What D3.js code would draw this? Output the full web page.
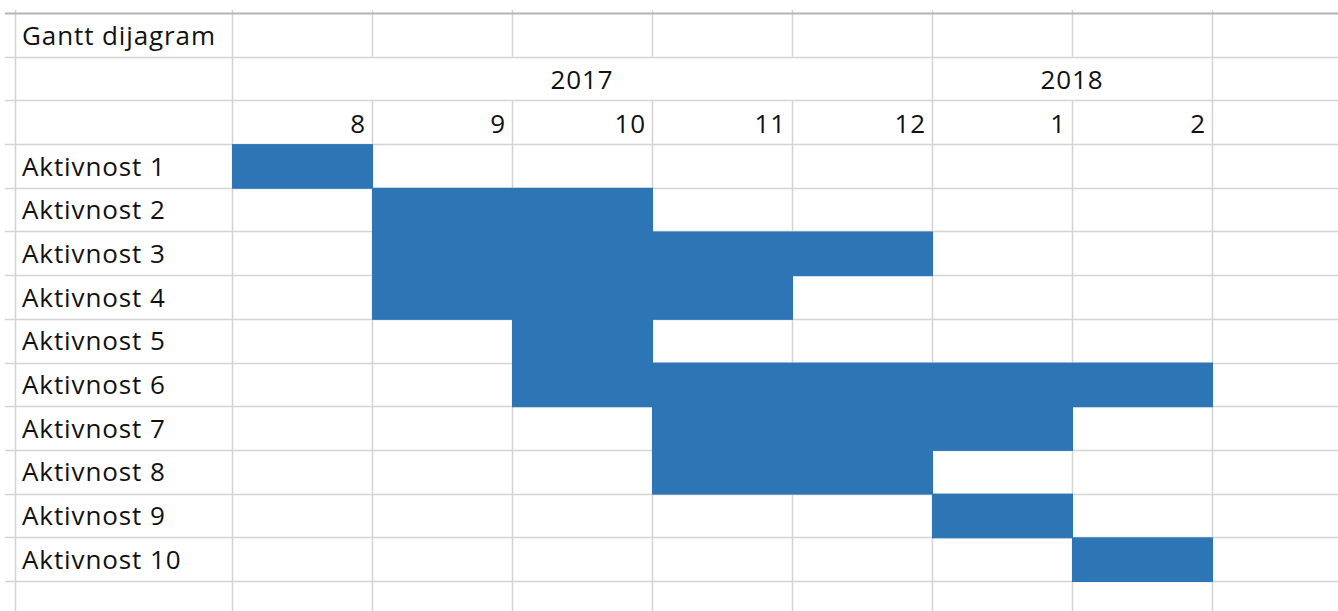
<!DOCTYPE html>
<html>
<head>
<meta charset="utf-8" />
<title>Gantt dijagram</title>
<script src="https://cdn.jsdelivr.net/npm/d3@7"></script>
<style>
body { margin: 0; background: #fff; }
svg text { font-family: "Open Sans", Lato, sans-serif; fill: #111; font-variant-ligatures: none; letter-spacing: 0.9px; }
</style>
</head>
<body>
<div id="chart"></div>
<script>
const title = "Gantt dijagram";
const months = ["2017-08","2017-09","2017-10","2017-11","2017-12","2018-01","2018-02"];
const monthLabels = ["8","9","10","11","12","1","2"];
const years = ["2017","2018"];
const tasks = ["Aktivnost 1","Aktivnost 2","Aktivnost 3","Aktivnost 4","Aktivnost 5",
               "Aktivnost 6","Aktivnost 7","Aktivnost 8","Aktivnost 9","Aktivnost 10"];
const taskStart = ["2017-08","2017-09","2017-09","2017-09","2017-10","2017-10","2017-11","2017-11","2018-01","2018-02"];
const taskEnd   = ["2017-08","2017-10","2017-12","2017-11","2017-10","2018-02","2018-01","2017-12","2018-01","2018-02"];

const width = 1338, height = 611;
const fontSize = 26;
const grid = "#d4d4d4";

const svg = d3.select("#chart").append("svg")
	.attr("width", width)
	.attr("height", height);

// columns: month cells, label column A is to the left
var x = d3.scaleBand().domain(months).range([232, 1212]).padding(0);
var colW = x.bandwidth();
// rows: 0 title, 1 year, 2 month, 3.. tasks
var y = d3.scaleLinear().domain([0, 13]).range([13, 581]);
var rowH = y(1) - y(0);

// horizontal grid lines
var nRows = 15;
svg.append("g").selectAll("line")
	.data(d3.range(1, nRows))
	.enter().append("line")
	.attr("x1", 5).attr("x2", width)
	.attr("y1", d => Math.round(y(d)) + 0.5)
	.attr("y2", d => Math.round(y(d)) + 0.5)
	.attr("stroke", grid).attr("stroke-width", 1.5);

// vertical lines (skip inside merged year cells on the year row)
var colEdges = [15].concat(months.map(m => x(m)), [x(months[months.length-1]) + colW, 1352]);
var merged = [x("2017-09"), x("2017-10"), x("2017-11"), x("2017-12"), x("2018-02")];
var vg = svg.append("g");
colEdges.forEach(function(cx){
	var px = Math.round(cx) + 0.5;
	if (merged.indexOf(cx) >= 0) {
		vg.append("line").attr("x1", px).attr("x2", px).attr("y1", 10).attr("y2", y(1))
			.attr("stroke", grid).attr("stroke-width", 1.5);
		vg.append("line").attr("x1", px).attr("x2", px).attr("y1", y(2)).attr("y2", height)
			.attr("stroke", grid).attr("stroke-width", 1.5);
	} else {
		vg.append("line").attr("x1", px).attr("x2", px).attr("y1", 10).attr("y2", height)
			.attr("stroke", grid).attr("stroke-width", 1.5);
	}
});

// top border
svg.append("line")
	.attr("x1", 5).attr("x2", width)
	.attr("y1", 13.5).attr("y2", 13.5)
	.attr("stroke", "#b4b4b4").attr("stroke-width", 2);

// bars
svg.append("g").selectAll("rect")
	.data(tasks)
	.enter().append("rect")
	.attr("x", (d, i) => x(taskStart[i]))
	.attr("width", (d, i) => x(taskEnd[i]) + colW - x(taskStart[i]) + 1)
	.attr("y", (d, i) => y(i + 3))
	.attr("height", rowH + 1)
	.attr("fill", "#2e75b6");

// texts
svg.append("text")
	.attr("x", 22).attr("y", y(0) + 32)
	.attr("font-size", fontSize)
	.text(title);

svg.append("g").selectAll("text")
	.data(tasks)
	.enter().append("text")
	.attr("x", 22)
	.attr("y", (d, i) => y(i + 3) + 31.5)
	.attr("font-size", fontSize)
	.text(d => d);

svg.append("g").selectAll("text")
	.data(months)
	.enter().append("text")
	.attr("x", d => x(d) + colW - 6)
	.attr("y", y(2) + 33)
	.attr("text-anchor", "end")
	.attr("font-size", fontSize)
	.text((d, i) => monthLabels[i]);

svg.append("g").selectAll("text")
	.data(years)
	.enter().append("text")
	.attr("x", function(yr){
		var ms = months.filter(m => m.slice(0, 4) === yr);
		return (x(ms[0]) + x(ms[ms.length-1]) + colW) / 2;
	})
	.attr("y", y(1) + 32.5)
	.attr("text-anchor", "middle")
	.attr("font-size", fontSize)
	.text(d => d);
</script>
</body>
</html>
